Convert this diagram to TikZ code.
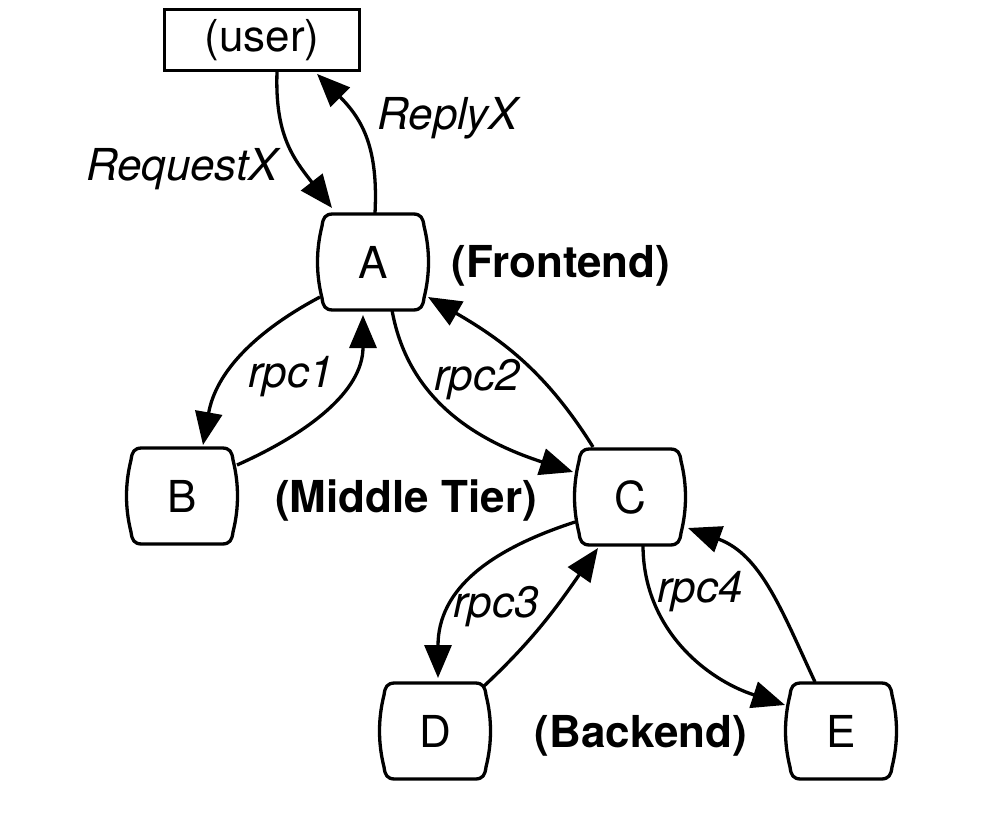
\documentclass[tikz,border=0pt]{standalone}
\usepackage{fontspec}
\setmainfont{TeX Gyre Heros}
\usetikzlibrary{arrows.meta,calc}
\newcommand\tieroutline[1]{%
  \draw[tierline] ($(#1.center)+(-40,48)$) -- ++(80,0)
    .. controls +(8,0) and +(-1,8) .. ++(11,-12)
    .. controls +(6,-24) and +(6,24) .. ++(0,-72)
    .. controls +(-1,-8) and +(8,0) .. ++(-11,-12)
    -- ++(-80,0)
    .. controls +(-8,0) and +(1,-8) .. ++(-11,12)
    .. controls +(-6,24) and +(-6,-24) .. ++(0,72)
    .. controls +(1,8) and +(-8,0) .. ++(11,12) -- cycle;}
\begin{document}
\begin{tikzpicture}[x=1pt,y=1pt,
  every node/.style={font=\fontsize{44}{52}\selectfont},
  tier/.style={minimum width=112pt, minimum height=96pt, inner sep=0pt},
  userbox/.style={draw, line width=2.8pt, minimum width=195pt, minimum height=61pt, inner sep=0pt},
  link/.style={line width=3.3pt, -{Triangle[length=33pt,width=27pt]}},
  tierline/.style={line width=3.3pt, line join=round},
  edgelab/.style={font=\fontsize{44}{52}\selectfont\itshape, anchor=base, inner sep=0pt},
  tierlab/.style={font=\fontsize{44}{52}\selectfont\bfseries, anchor=base, inner sep=0pt}]
\useasboundingbox (0,0) rectangle (982,-818);
\node[userbox] (user) at (262,-40) {(user)};
\node[tier] (A) at (373,-262) {A};
\node[tier] (B) at (182,-496) {B};
\node[tier] (C) at (630,-497) {C};
\node[tier] (D) at (435,-731) {D};
\node[tier] (E) at (841,-731) {E};
\tieroutline{A}
\tieroutline{B}
\tieroutline{C}
\tieroutline{D}
\tieroutline{E}
\draw[link] ($(user.south)+(15,0)$) to[out=-92,in=128,looseness=1.1] ($(A.center)+(-41,54)$);
\draw[link] ($(A.center)+(2,49)$) to[out=87,in=-45,looseness=1.1] ($(user.south)+(55,-2)$);
\draw[link] ($(A.center)+(-53,-35)$) to[out=-152,in=80] ($(B.center)+(21,51)$);
\draw[link] ($(B.center)+(55,31)$) to[out=24,in=-90] ($(A.center)+(-10,-53)$);
\draw[link] ($(A.center)+(19,-48)$) to[out=-80,in=162] ($(C.center)+(-57,25)$);
\draw[link] ($(C.center)+(-37,50)$) to[out=122,in=-30] ($(A.center)+(55,-35)$);
\draw[link] ($(C.center)+(-55,-25)$) to[out=-162,in=90,looseness=1.1] ($(D.center)+(3,53)$);
\draw[link] ($(D.center)+(48,44)$) to[out=43,in=-125] ($(C.center)+(-32,-51)$);
\draw[link] ($(C.center)+(13,-48)$) to[out=-90,in=162] ($(E.center)+(-56,26)$);
\draw[link] ($(E.center)+(-26,49)$) to[out=115,in=-20] ($(C.center)+(58,-31)$);
\node[edgelab] (lreq) at (182,-181) {RequestX};
\node[edgelab] (lrep) at (448,-130) {ReplyX};
\node[tierlab] (lfront) at (561,-277) {(Frontend)};
\node[tierlab] (lmid) at (406,-512) {(Middle Tier)};
\node[tierlab] (lback) at (641,-747) {(Backend)};
\node[edgelab] (r1) at (291,-387) {rpc1};
\node[edgelab] (r2) at (477,-390) {rpc2};
\node[edgelab] (r3) at (496,-617) {rpc3};
\node[edgelab] (r4) at (700,-602) {rpc4};
\end{tikzpicture}
\end{document}
